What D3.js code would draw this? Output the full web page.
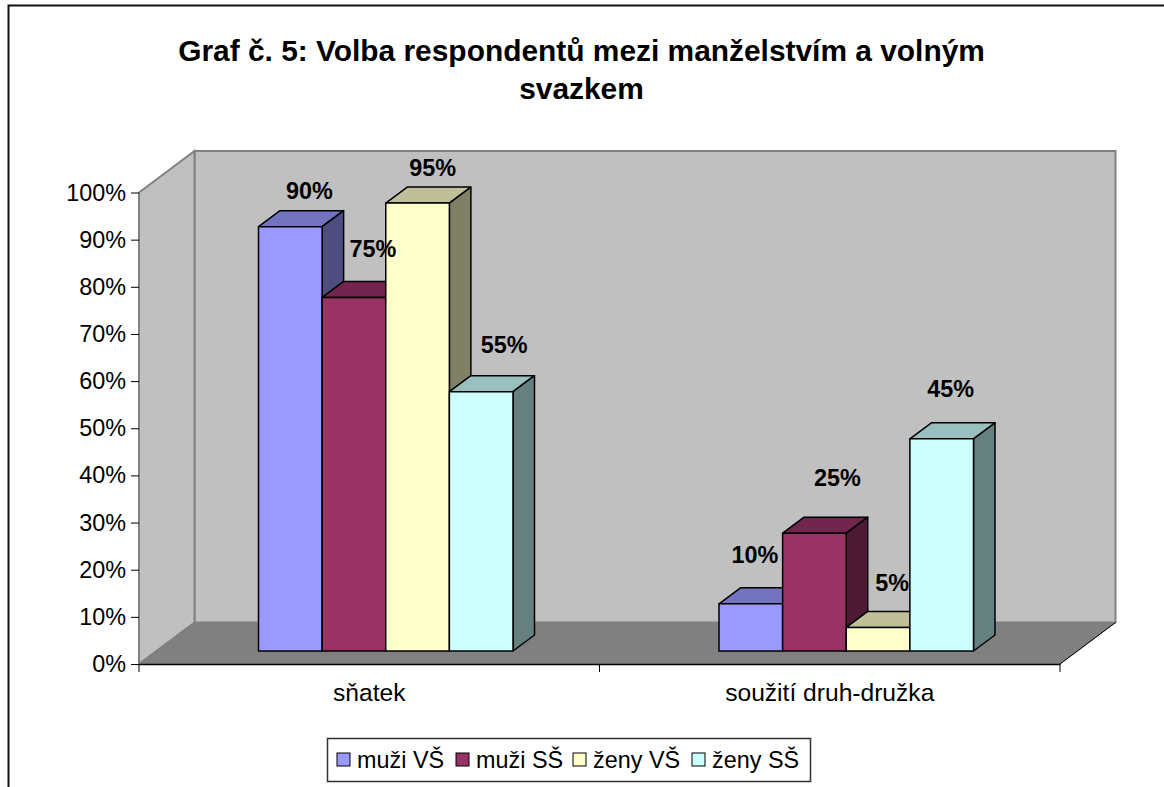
<!DOCTYPE html>
<html>
<head>
<meta charset="utf-8">
<script src="https://cdn.jsdelivr.net/npm/d3@7"></script>
<style>
    body { margin: 0; background: #fff; }
    svg { display: block; }
    text { font-family: "Liberation Sans", Arial, sans-serif; fill: #000; }
</style>
</head>
<body>
<svg id="chart_region"></svg>
<script>
const title_lines = ['Graf č. 5: Volba respondentů mezi manželstvím a volným', 'svazkem'];
const categories = ['sňatek', 'soužití druh-družka'];
const series = ['muži VŠ', 'muži SŠ', 'ženy VŠ', 'ženy SŠ'];
const muzi_vs = [90, 10];
const muzi_ss = [75, 25];
const zeny_vs = [95, 5];
const zeny_ss = [55, 45];
const y_ticks = [0, 10, 20, 30, 40, 50, 60, 70, 80, 90, 100];
const colors = ['#9999ff', '#993366', '#ffffcc', '#ccffff'];

class Bar3D{
    constructor(config){
        this.config = {
            parent: config.parent,
            width: config.width,
            height: config.height,
            left: 139, right: 1060, top: 192.5, bottom: 664,
            wall_dx: 55.5, wall_dy: -41.5,
            bar_dx: 16.5, bar_dy: -13,
            depth_dx: 21.5, depth_dy: -16,
            group_width: 254.5
        };
        // hand placed data labels, per series then category [dx, dy from front top centre]
        this.label_nudge = [
            [[19, -28], [4, -41]],
            [[19, -40], [23, -47]],
            [[15, -27], [14, -36]],
            [[23, -39], [9, -42]]
        ];
        this.init();
    }

    init(){
        const c = this.config;
        this.svg = d3.select(c.parent)
            .attr('width', c.width)
            .attr('height', c.height);

        this.xscale = d3.scaleBand()
            .domain(categories)
            .range([c.left, c.right]);

        this.inner_scale = d3.scaleBand()
            .domain(series)
            .range([(this.xscale.bandwidth() - c.group_width) / 2, (this.xscale.bandwidth() + c.group_width) / 2]);

        this.yscale = d3.scaleLinear()
            .domain([0, 100])
            .range([c.bottom, c.top]);

        this.values = [muzi_vs, muzi_ss, zeny_vs, zeny_ss];
        this.render();
    }

    render(){
        this.draw_frame();
        this.draw_walls();
        this.draw_axes();
        this.draw_bars();
        this.draw_labels();
        this.draw_legend();
    }

    draw_frame(){
        const c = this.config;
        this.svg.append('path')
            .attr('d', `M8.5,${c.height} V5.5 H${c.width}`)
            .attr('fill', 'none')
            .attr('stroke', '#111')
            .attr('stroke-width', 2);

        this.svg.append('text')
            .attr('text-anchor', 'middle')
            .attr('font-weight', 'bold')
            .attr('font-size', 29.9)
            .selectAll('tspan')
            .data(title_lines)
            .join('tspan')
            .attr('x', 581.5)
            .attr('y', (d, i) => 61 + i * 38)
            .text(d => d);
    }

    draw_walls(){
        const c = this.config;
        const dx = c.wall_dx, dy = c.wall_dy;
        // back wall
        this.svg.append('rect')
            .attr('x', c.left + dx)
            .attr('y', c.top + dy)
            .attr('width', c.right - c.left)
            .attr('height', c.bottom - c.top)
            .attr('fill', '#c0c0c0')
            .attr('stroke', '#808080')
            .attr('stroke-width', 2);
        // side wall
        this.svg.append('polygon')
            .attr('points', [[c.left, c.top], [c.left + dx, c.top + dy], [c.left + dx, c.bottom + dy], [c.left, c.bottom]].join(' '))
            .attr('fill', '#c0c0c0')
            .attr('stroke', '#808080')
            .attr('stroke-width', 2);
        // floor
        this.svg.append('polygon')
            .attr('points', [[c.left, c.bottom], [c.left + dx, c.bottom + dy], [c.right + dx, c.bottom + dy], [c.right, c.bottom]].join(' '))
            .attr('fill', '#808080')
            .attr('stroke', '#808080');
        this.svg.append('line')
            .attr('x1', c.right).attr('y1', c.bottom)
            .attr('x2', c.right + dx).attr('y2', c.bottom + dy)
            .attr('stroke', '#000');
    }

    draw_axes(){
        const c = this.config;
        const yaxis = d3.axisLeft(this.yscale)
            .tickValues(y_ticks)
            .tickFormat(d => d + '%')
            .tickSize(8)
            .tickPadding(5);
        const yg = this.svg.append('g')
            .attr('transform', `translate(${c.left}, 0)`)
            .call(yaxis);
        yg.select('.domain').remove();
        yg.selectAll('text').attr('font-size', 23.4).attr('font-family', null);

        const xaxis = d3.axisBottom(this.xscale)
            .tickSize(0)
            .tickPadding(20);
        const xg = this.svg.append('g')
            .attr('transform', `translate(0, ${c.bottom})`)
            .call(xaxis);
        xg.select('.domain').attr('stroke', '#000').attr('stroke-width', 1.5);
        xg.selectAll('text').attr('font-size', 24.6).attr('font-family', null);

        // ticks sit between the categories
        const edges = categories.map(d => this.xscale(d)).concat(c.right);
        this.svg.append('g')
            .selectAll('line')
            .data(edges)
            .join('line')
            .attr('x1', d => d).attr('x2', d => d)
            .attr('y1', c.bottom).attr('y2', c.bottom + 8)
            .attr('stroke', '#000');
    }

    draw_bars(){
        const c = this.config;
        const ddx = c.depth_dx, ddy = c.depth_dy;
        const base = this.yscale(0) + c.bar_dy;
        const w = this.inner_scale.bandwidth();
        const shade = (col, k) => {
            const rgb = d3.rgb(col);
            return d3.rgb(rgb.r * k, rgb.g * k, rgb.b * k).formatHex();
        };

        categories.forEach((cat, ci) => {
            series.forEach((s, si) => {
                const x = this.xscale(cat) + this.inner_scale(s) + c.bar_dx;
                const y = this.yscale(this.values[si][ci]) + c.bar_dy;
                const g = this.svg.append('g')
                    .attr('stroke', '#000')
                    .attr('stroke-width', 1.5)
                    .attr('stroke-linejoin', 'round');
                g.append('polygon')
                    .attr('points', [[x, y], [x + ddx, y + ddy], [x + w + ddx, y + ddy], [x + w, y]].join(' '))
                    .attr('fill', shade(colors[si], 0.75));
                g.append('polygon')
                    .attr('points', [[x + w, y], [x + w + ddx, y + ddy], [x + w + ddx, base + ddy], [x + w, base]].join(' '))
                    .attr('fill', shade(colors[si], 0.5));
                g.append('rect')
                    .attr('x', x).attr('y', y)
                    .attr('width', w).attr('height', base - y)
                    .attr('fill', colors[si]);
            });
        });
    }

    draw_labels(){
        const c = this.config;
        const w = this.inner_scale.bandwidth();
        categories.forEach((cat, ci) => {
            series.forEach((s, si) => {
                const v = this.values[si][ci];
                const nudge = this.label_nudge[si][ci];
                this.svg.append('text')
                    .attr('x', this.xscale(cat) + this.inner_scale(s) + c.bar_dx + w / 2 + nudge[0])
                    .attr('y', this.yscale(v) + c.bar_dy + nudge[1])
                    .attr('text-anchor', 'middle')
                    .attr('font-weight', 'bold')
                    .attr('font-size', 23.4)
                    .text(v + '%');
            });
        });
    }

    draw_legend(){
        const swatch_x = [337, 456, 573, 692];
        this.svg.append('rect')
            .attr('x', 327.5).attr('y', 738.5)
            .attr('width', 483).attr('height', 43)
            .attr('fill', '#fff')
            .attr('stroke', '#333')
            .attr('stroke-width', 1.5);
        const item = this.svg.append('g')
            .selectAll('g')
            .data(series)
            .join('g')
            .attr('transform', (d, i) => `translate(${swatch_x[i]}, 753)`);
        item.append('rect')
            .attr('width', 13).attr('height', 13)
            .attr('fill', (d, i) => colors[i])
            .attr('stroke', '#000');
        item.append('text')
            .attr('x', 20)
            .attr('y', 15)
            .attr('font-size', 23.4)
            .text(d => d);
    }
}

new Bar3D({parent: '#chart_region', width: 1164, height: 787});
</script>
</body>
</html>
